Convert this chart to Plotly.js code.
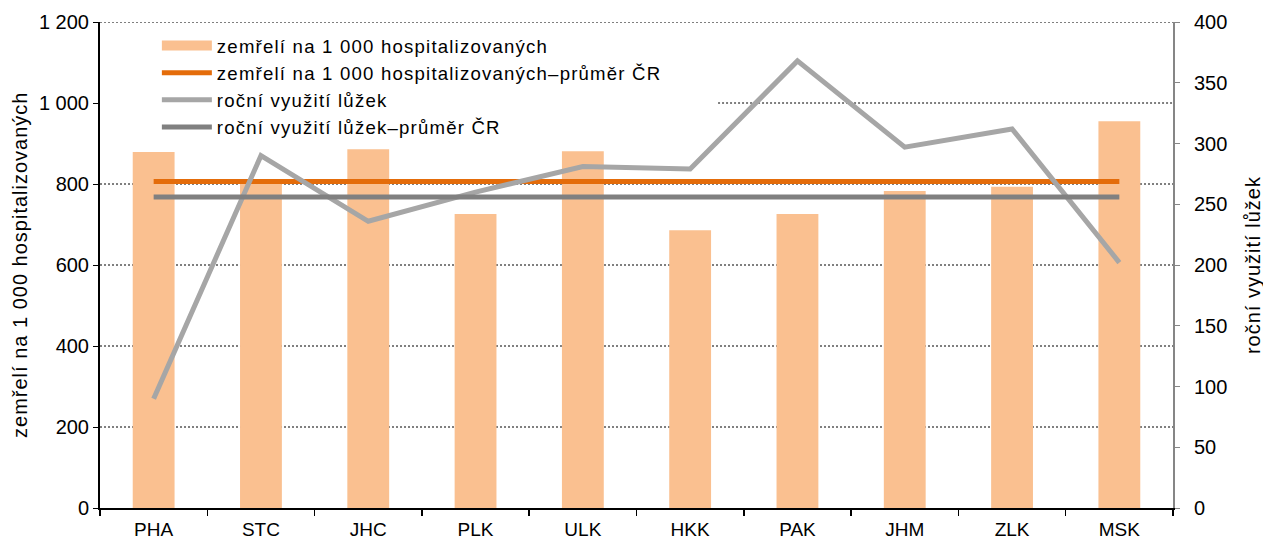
<!DOCTYPE html>
<html>
<head>
<meta charset="utf-8">
<script src="https://cdn.plot.ly/plotly-3.0.1.min.js"></script>
<style>
html,body{margin:0;padding:0;background:#fff;}
#chart{width:1263px;height:542px;}
.legendtext{letter-spacing:1.2px;}
.annotation-text{letter-spacing:1px;}
</style>
</head>
<body>
<div id="chart"></div>
<script>
const categories = ["PHA","STC","JHC","PLK","ULK","HKK","PAK","JHM","ZLK","MSK"];
const deathsPer1000 = [879, 803, 886, 726, 881, 686, 726, 783, 793, 955];
const bedUse = [90, 290, 236, 260, 281, 279, 368, 297, 312, 202];
const deathsAvgCR = 806;
const bedUseAvgCR = 256;
const leftTicks = [0, 200, 400, 600, 800, 1000, 1200];
const rightTicks = [0, 50, 100, 150, 200, 250, 300, 350, 400];

const names = [
  "zemřelí na 1 000 hospitalizovaných",
  "zemřelí na 1 000 hospitalizovaných–průměr ČR",
  "roční využití lůžek",
  "roční využití lůžek–průměr ČR"
];
const leftTitle = "zemřelí na 1 000 hospitalizovaných";
const rightTitle = "roční využití lůžek";

const font = "Liberation Sans, Arial, sans-serif";
const barColor = "#FAC090";

const traces = [
  {type:"bar", x:categories, y:deathsPer1000, name:names[0], showlegend:false,
   marker:{color:barColor}, yaxis:"y"},
  // legend swatch for the bar series (wide rectangle like the original)
  {type:"scatter", mode:"lines", x:[null], y:[null], name:names[0], showlegend:true,
   line:{color:barColor, width:11}, yaxis:"y"},
  {type:"scatter", mode:"lines", x:categories, y:categories.map(()=>deathsAvgCR), name:names[1],
   line:{color:"#E46C0A", width:5}, yaxis:"y"},
  {type:"scatter", mode:"lines", x:categories, y:bedUse, name:names[2],
   line:{color:"#A6A6A6", width:5}, yaxis:"y2"},
  {type:"scatter", mode:"lines", x:categories, y:categories.map(()=>bedUseAvgCR), name:names[3],
   line:{color:"#808080", width:5}, yaxis:"y2"}
];

// dotted horizontal gridlines; the 1000 line is hidden behind the legend box
const gridShapes = leftTicks.filter(v => v > 0).map(v => ({
  type:"line", xref:"paper", yref:"y", x0:(v === 1000 ? 0.576 : 0), x1:1, y0:v, y1:v,
  line:{color:"#000", width:1, dash:"2px,2px"}, layer:"below"
}));

const layout = {
  width:1263, height:542,
  margin:{l:100, r:90, t:22, b:34},
  paper_bgcolor:"#fff", plot_bgcolor:"#fff",
  font:{family:font, size:20, color:"#000"},
  separators:", ",
  showlegend:true,
  bargap:0.61,
  legend:{x:0.053, y:0.99, xanchor:"left", yanchor:"top", bgcolor:"rgba(0,0,0,0)",
          font:{size:18.6}, itemwidth:50, traceorder:"normal"},
  shapes:gridShapes,
  annotations:[
    {text:leftTitle, xref:"paper", yref:"paper", x:-0.0746, y:0.5, textangle:-90,
     showarrow:false, font:{size:20}, xanchor:"center", yanchor:"middle"},
    {text:rightTitle, xref:"paper", yref:"paper", x:1.0746, y:0.5, textangle:-90,
     showarrow:false, font:{size:20}, xanchor:"center", yanchor:"middle"}
  ],
  xaxis:{type:"category", showline:true, linecolor:"#000", linewidth:2,
         ticks:"outside", tickson:"boundaries", ticklen:6, tickcolor:"#000", tickwidth:1.5,
         showgrid:false, zeroline:false, tickfont:{size:19}, ticklabelstandoff:3},
  yaxis:{range:[0,1200], tickvals:leftTicks, tickformat:",d", showline:true, linecolor:"#000", linewidth:2,
         ticks:"outside", ticklen:5, tickcolor:"#000",
         showgrid:false, zeroline:false, tickfont:{size:20}},
  yaxis2:{range:[0,400], tickvals:rightTicks, overlaying:"y", side:"right", showline:true,
          linecolor:"#868686", linewidth:2, ticks:"outside", ticklen:5, tickcolor:"#868686",
          showgrid:false, zeroline:false, tickfont:{size:20}, ticklabelstandoff:10}
};

Plotly.newPlot("chart", traces, layout, {staticPlot:true});
</script>
</body>
</html>
